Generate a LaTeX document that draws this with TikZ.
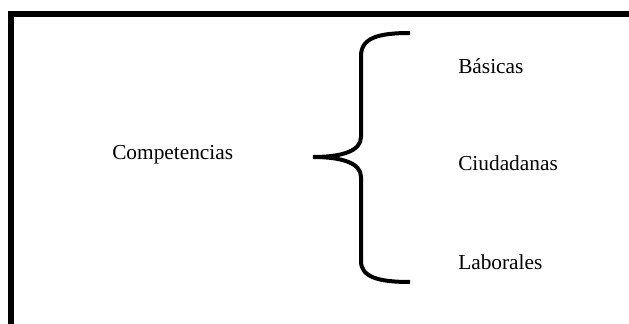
\documentclass[tikz,border=0pt]{standalone}
\usepackage{fontspec}
\setmainfont{Liberation Serif}
\begin{document}
\begin{tikzpicture}[x=0.75pt,y=-0.75pt,
  label/.style={anchor=base west,inner sep=0pt,font=\fontsize{16pt}{19pt}\selectfont},
  frame/.style={line width=4.5pt,line join=miter},
  bracestroke/.style={line width=3pt,line cap=butt}]
\useasboundingbox (0,0) rectangle (629,324);
\clip (0,0) rectangle (629,324);

% frame: top and left edges
\draw[frame] (11,340) -- (11,14) -- (650,14);

% labels
\node[label] (comp) at (112,160) {Competencias};
\node[label] (bas)  at (458,74)  {Básicas};
\node[label] (ciu)  at (458,171) {Ciudadanas};
\node[label] (lab)  at (458,270) {Laborales};

% curly brace
\coordinate (tip) at (313,157);
\coordinate (top) at (410,33);
\coordinate (bot) at (410,282);
\draw[bracestroke] (top) .. controls (378,33) and (361,38) .. (361,56)
  -- (361,137) .. controls (361,151) and (342,157) .. (tip)
  .. controls (342,157) and (361,163) .. (361,177)
  -- (361,261) .. controls (361,277) and (378,282) .. (bot);
\end{tikzpicture}
\end{document}
